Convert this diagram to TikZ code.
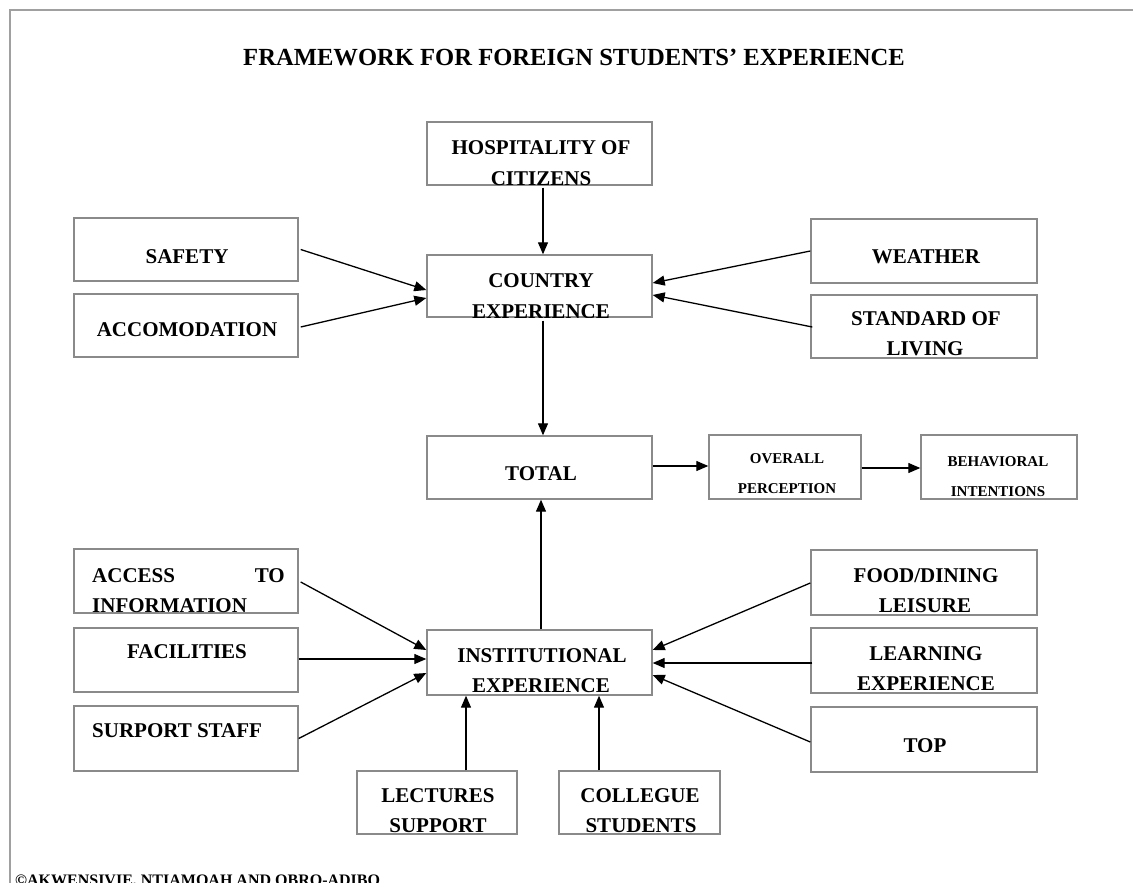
\documentclass[tikz,border=0pt]{standalone}
\usepackage{fontspec}
\setmainfont{Liberation Serif}
\usetikzlibrary{calc,fit,arrows.meta}
\definecolor{boxgray}{HTML}{8A8A8A}
\definecolor{framegray}{HTML}{A0A0A0}
\newcommand\mkbox[5]{\node[box, fit={(#2,#3) (#4,#5)}] (#1) {};}
\newcommand\boxtext[2]{\begin{scope}\clip (#1.south west) rectangle (#1.north east); #2 \end{scope}}
\begin{document}
\begin{tikzpicture}[x=1pt,y=-1pt,
  box/.style={draw=boxgray, line width=1.4pt, inner sep=0pt},
  txt/.style={anchor=base, inner sep=0pt, font=\fontsize{21}{24}\selectfont\bfseries},
  smalltxt/.style={anchor=base, inner sep=0pt, font=\fontsize{15}{18}\selectfont\bfseries},
  arr/.style={line width=1.3pt, -{Triangle[length=12pt,width=10pt]}},
  frameline/.style={draw=framegray, line width=1.5pt}]
\clip (0,0) rectangle (1133,883);
\fill[white] (0,0) rectangle (1133,883);
% outer frame
\draw[frameline] (10,900) -- (10,10) -- (1150,10);
% title
\node[anchor=base, inner sep=0pt, font=\fontsize{24.6}{28}\selectfont\bfseries] (title) at (574,66) {FRAMEWORK FOR FOREIGN STUDENTS’ EXPERIENCE};
% boxes
\mkbox{hosp}{427}{122}{652}{185}
\mkbox{country}{427}{255}{652}{317}
\mkbox{safety}{74}{218}{298}{281}
\mkbox{accom}{74}{294}{298}{357}
\mkbox{weather}{811}{219}{1037}{283}
\mkbox{standard}{811}{295}{1037}{358}
\mkbox{total}{427}{436}{652}{499}
\mkbox{overall}{709}{435}{861}{499}
\mkbox{behav}{921}{435}{1077}{499}
\mkbox{access}{74}{549}{298}{613}
\mkbox{facil}{74}{628}{298}{692}
\mkbox{support}{74}{706}{298}{771}
\mkbox{inst}{427}{630}{652}{695}
\mkbox{lect}{357}{771}{517}{834}
\mkbox{colleg}{559}{771}{720}{834}
\mkbox{food}{811}{550}{1037}{615}
\mkbox{learn}{811}{628}{1037}{693}
\mkbox{top}{811}{707}{1037}{772}
% texts
\boxtext{hosp}{\node[txt] (t1) at (541,154) {HOSPITALITY OF}; \node[txt] (t2) at (541,185) {CITIZENS};}
\boxtext{country}{\node[txt] (t3) at (541,287) {COUNTRY}; \node[txt] (t4) at (541,318) {EXPERIENCE};}
\boxtext{safety}{\node[txt] (t5) at (187,263) {SAFETY};}
\boxtext{accom}{\node[txt] (t6) at (187,336) {ACCOMODATION};}
\boxtext{weather}{\node[txt] (t7) at (926,263) {WEATHER};}
\boxtext{standard}{\node[txt] (t8) at (926,325) {STANDARD OF}; \node[txt] (t9) at (925,355) {LIVING};}
\boxtext{total}{\node[txt] (t10) at (541,480) {TOTAL};}
\boxtext{overall}{\node[smalltxt] (t11) at (787,463) {OVERALL}; \node[smalltxt] (t12) at (787,493) {PERCEPTION};}
\boxtext{behav}{\node[smalltxt] (t13) at (998,466) {BEHAVIORAL}; \node[smalltxt] (t14) at (998,496) {INTENTIONS};}
\boxtext{access}{\node[txt, anchor=base west] (t15) at (92,582) {ACCESS}; \node[txt, anchor=base east] (t16) at (285,582) {TO}; \node[txt, anchor=base west] (t17) at (92,612) {INFORMATION};}
\boxtext{facil}{\node[txt] (t18) at (187,658) {FACILITIES};}
\boxtext{support}{\node[txt, anchor=base west] (t19) at (92,737) {SURPORT STAFF};}
\boxtext{inst}{\node[txt] (t20) at (542,662) {INSTITUTIONAL}; \node[txt] (t21) at (541,692) {EXPERIENCE};}
\boxtext{lect}{\node[txt] (t22) at (438,802) {LECTURES}; \node[txt] (t23) at (438,832) {SUPPORT};}
\boxtext{colleg}{\node[txt] (t24) at (640,802) {COLLEGUE}; \node[txt] (t25) at (641,832) {STUDENTS};}
\boxtext{food}{\node[txt] (t26) at (926,582) {FOOD/DINING}; \node[txt] (t27) at (925,612) {LEISURE};}
\boxtext{learn}{\node[txt] (t28) at (926,660) {LEARNING}; \node[txt] (t29) at (926,690) {EXPERIENCE};}
\boxtext{top}{\node[txt] (t30) at (925,752) {TOP};}
% footer
\node[anchor=base west, inner sep=0pt, font=\fontsize{16}{19}\selectfont\bfseries] (foot) at (15,885) {©AKWENSIVIE, NTIAMOAH AND OBRO-ADIBO};
% connectors
\draw[arr] ($(hosp.south)+(3.5,2)$) -- ($(country.north)+(3.5,0)$);
\draw[arr] ($(safety.east)+(2,0)$) -- ($(country.west)+(0,4)$);
\draw[arr] ($(accom.east)+(2,1.5)$) -- ($(country.west)+(0,12)$);
\draw[arr] ($(weather.west)+(0,0)$) -- ($(country.east)+(0,-3)$);
\draw[arr] ($(standard.west)+(2,0.5)$) -- ($(country.east)+(0,9)$);
\draw[arr] ($(country.south)+(3.5,3)$) -- ($(total.north)+(3.5,0)$);
\draw[arr] ($(total.east)+(0,-1.5)$) -- ($(overall.west)+(0,-1)$);
\draw[arr] ($(overall.east)+(0,1)$) -- ($(behav.west)+(0,1)$);
\draw[arr] ($(inst.north)+(1.5,0)$) -- ($(total.south)+(1.5,0)$);
\draw[arr] ($(access.east)+(2,1)$) -- ($(inst.west)+(0,-12.5)$);
\draw[arr] ($(facil.east)+(0,-1)$) -- ($(inst.west)+(0,-3.5)$);
\draw[arr] ($(support.east)+(0,0)$) -- ($(inst.west)+(0,10.5)$);
\draw[arr] ($(food.west)+(0,0.5)$) -- ($(inst.east)+(0,-12.5)$);
\draw[arr] ($(learn.west)+(2,2.5)$) -- ($(inst.east)+(0,0.5)$);
\draw[arr] ($(top.west)+(0,2.5)$) -- ($(inst.east)+(0,12.5)$);
\draw[arr] ($(lect.north)+(29,0)$) -- ($(inst.south)+(-73.5,0)$);
\draw[arr] ($(colleg.north)+(-40.5,0)$) -- ($(inst.south)+(59.5,0)$);
\end{tikzpicture}
\end{document}
